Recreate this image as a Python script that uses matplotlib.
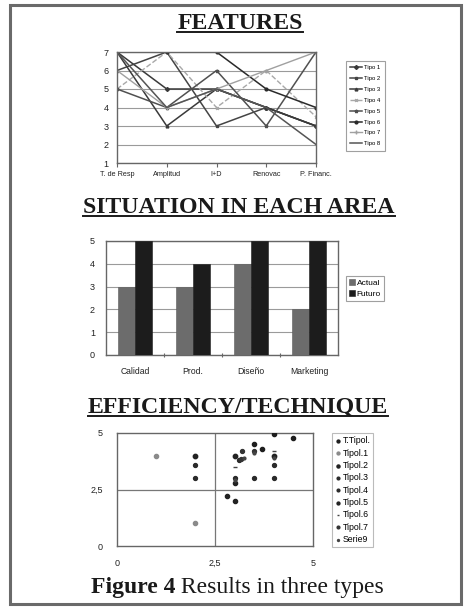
import matplotlib
matplotlib.use("Agg")
import matplotlib.pyplot as plt
from matplotlib.lines import Line2D
from matplotlib.patches import Rectangle

W, H = 467, 607

# ---- data: features profile ----
features = ["T. de Resp", "Amplitud", "I+D", "Renovac", "P. Financ."]
tipo_names = ["Tipo 1", "Tipo 2", "Tipo 3", "Tipo 4", "Tipo 5", "Tipo 6", "Tipo 7", "Tipo 8"]
tipo_1 = [7, 5, 5, 4, 3]
tipo_2 = [6, 7, 3, 4, 3]
tipo_3 = [7, 3, 5, 4, 3]
tipo_4 = [5, 7, 4, 6, 3.5]
tipo_5 = [5, 4, 6, 3, 7]
tipo_6 = [7, 7, 7, 5, 4]
tipo_7 = [6, 4, 5, 6, 7]
tipo_8 = [7, 4, 5, 4, 2]

# ---- data: situation in each area ----
areas = ["Calidad", "Prod.", "Diseño", "Marketing"]
actual = [3, 3, 4, 2]
futuro = [5, 4, 5, 5]

# ---- data: efficiency / technique ----
scatter_names = ["T.Tipol.", "Tipol.1", "Tipol.2", "Tipol.3", "Tipol.4",
                 "Tipol.5", "Tipol.6", "Tipol.7", "Serie9"]
t_tipol_x, t_tipol_y = [3.5, 3.7, 4.5, 4.0], [4.5, 4.3, 4.8, 4.95]
tipol1_x, tipol1_y = [1, 2], [4, 1]
tipol2_x, tipol2_y = [2, 3, 4], [4, 4, 4]
tipol3_x, tipol3_y = [2, 3.1, 4], [3.6, 3.8, 3.6]
tipol4_x, tipol4_y = [2, 3, 3.5, 4], [3, 3, 3, 3]
tipol5_x, tipol5_y = [2.8, 3, 3], [2.2, 2.8, 2]
tipol6_x, tipol6_y = [3, 4], [3.5, 4.2]
tipol7_x, tipol7_y = [3.2, 3.5, 3.17], [4.2, 4.2, 3.85]
serie9_x, serie9_y = [3.23, 3.5, 4, 3], [3.9, 4.1, 3.9, 2.9]

SANS = "Liberation Sans"
SERIF = "Liberation Serif"

fig = plt.figure(figsize=(W / 100, H / 100), dpi=100)
fig.patch.set_facecolor("white")


def rect(l, t, r, b):
    return [l / W, 1 - b / H, (r - l) / W, (b - t) / H]


def fy(y):
    return 1 - y / H


# outer frame
fig.add_artist(Rectangle((10 / W, fy(604)), 451 / W, 599 / H, transform=fig.transFigure,
                         fill=False, edgecolor="#6a6a6a", linewidth=2.2))

# ---------------- line chart ----------------
ax1 = fig.add_axes(rect(117, 52, 316, 163))
series = [tipo_1, tipo_2, tipo_3, tipo_4, tipo_5, tipo_6, tipo_7, tipo_8]
styles = [
    dict(color="#3a3a3a", marker="D", ms=2.0, ls="-", lw=1.1),
    dict(color="#444444", marker="s", ms=2.0, ls="-", lw=1.1),
    dict(color="#3a3a3a", marker="^", ms=2.0, ls="-", lw=1.1),
    dict(color="#a8a8a8", marker="x", ms=2.0, ls="--", lw=1.0),
    dict(color="#505050", marker="*", ms=2.5, ls="-", lw=1.1),
    dict(color="#2a2a2a", marker="o", ms=2.0, ls="-", lw=1.1),
    dict(color="#a0a0a0", marker="+", ms=2.5, ls="-", lw=1.0),
    dict(color="#555555", marker="", ls="-", lw=1.1),
]
xs = list(range(len(features)))
for name, vals, st in zip(tipo_names, series, styles):
    ax1.plot(xs, vals, label=name, **st)
ax1.set_xlim(0, 4)
ax1.set_ylim(1, 7)
ax1.set_yticks(range(1, 8))
ax1.set_xticks(xs)
ax1.set_xticklabels(features)
ax1.yaxis.grid(True, color="#9a9a9a", lw=0.8)
ax1.set_axisbelow(True)
for s in ax1.spines.values():
    s.set_color("#666666")
    s.set_linewidth(1.0)
ax1.tick_params(axis="y", length=0, pad=6, labelsize=6.5, labelcolor="#222222")
ax1.tick_params(axis="x", length=3, direction="out", pad=3, labelsize=5.2,
                labelcolor="#222222", color="#666666")
for lab in ax1.get_xticklabels() + ax1.get_yticklabels():
    lab.set_family(SANS)
leg1 = ax1.legend(loc="upper left", bbox_to_anchor=(343 / W, fy(58)),
                  bbox_transform=fig.transFigure, prop=dict(family=SANS, size=4.3),
                  frameon=True, fancybox=False, edgecolor="#888888",
                  handlelength=2.0, labelspacing=0.95, borderpad=0.7, handletextpad=0.4)
leg1.get_frame().set_linewidth(0.8)

# ---------------- bar chart ----------------
ax2 = fig.add_axes(rect(106, 241, 338, 355))
bw = 0.29
pos = list(range(len(areas)))
ax2.bar([p - bw / 2 for p in pos], actual, width=bw, color="#6c6c6c",
        edgecolor="#5a5a5a", linewidth=0.4, label="Actual", zorder=3)
ax2.bar([p + bw / 2 for p in pos], futuro, width=bw, color="#1c1c1c",
        edgecolor="#1c1c1c", linewidth=0.4, label="Futuro", zorder=3)
ax2.set_xlim(-0.5, 3.5)
ax2.set_ylim(0, 5)
ax2.set_yticks(range(0, 6))
ax2.set_xticks([0.5, 1.5, 2.5])
ax2.set_xticklabels([])
ax2.set_xticks(pos, minor=True)
ax2.set_xticklabels(areas, minor=True)
ax2.yaxis.grid(True, color="#9a9a9a", lw=0.8, zorder=0)
for s in ax2.spines.values():
    s.set_color("#666666")
    s.set_linewidth(1.0)
ax2.tick_params(axis="x", which="major", length=3, direction="inout", color="#666666")
ax2.tick_params(axis="x", which="minor", length=0, pad=9, labelsize=6.2, labelcolor="#222222")
ax2.tick_params(axis="y", length=0, pad=8, labelsize=6.5, labelcolor="#222222")
for lab in ax2.get_xticklabels(minor=True) + ax2.get_yticklabels():
    lab.set_family(SANS)
leg2 = ax2.legend(loc="upper left", bbox_to_anchor=(342 / W, fy(272)),
                  bbox_transform=fig.transFigure, prop=dict(family=SANS, size=6),
                  frameon=True, fancybox=False, edgecolor="#888888",
                  handlelength=0.7, handleheight=0.7, handletextpad=0.2,
                  labelspacing=0.35, borderpad=0.35)
leg2.get_frame().set_linewidth(0.8)

# ---------------- scatter ----------------
ax3 = fig.add_axes(rect(117, 433, 313, 546))
pts = [
    (t_tipol_x, t_tipol_y, dict(marker="o", s=9, color="#1e1e1e")),
    (tipol1_x, tipol1_y, dict(marker="o", s=9, color="#8a8a8a")),
    (tipol2_x, tipol2_y, dict(marker="o", s=10, color="#222222")),
    (tipol3_x, tipol3_y, dict(marker="o", s=8, color="#2a2a2a")),
    (tipol4_x, tipol4_y, dict(marker="o", s=8, color="#2a2a2a")),
    (tipol5_x, tipol5_y, dict(marker="o", s=9, color="#222222")),
    (tipol6_x, tipol6_y, dict(marker="_", s=8, color="#444444", linewidths=1.0)),
    (tipol7_x, tipol7_y, dict(marker="o", s=8, color="#333333")),
    (serie9_x, serie9_y, dict(marker="o", s=4, color="#444444")),
]
for name, (x, y, st) in zip(scatter_names, pts):
    ax3.scatter(x, y, label=name, zorder=3, **st)
ax3.set_xlim(0, 5)
ax3.set_ylim(0, 5)
ax3.axvline(2.5, color="#777777", lw=0.9, zorder=1)
ax3.axhline(2.5, color="#777777", lw=0.9, zorder=1)
ticks = [0, 2.5, 5]
tick_labels = ["0", "2,5", "5"]
ax3.set_xticks(ticks)
ax3.set_xticklabels(tick_labels)
ax3.set_yticks(ticks)
ax3.set_yticklabels(tick_labels)
for s in ax3.spines.values():
    s.set_color("#666666")
    s.set_linewidth(1.0)
ax3.tick_params(length=0, labelsize=6.5, labelcolor="#222222")
ax3.tick_params(axis="x", pad=9)
ax3.tick_params(axis="y", pad=10)
for lab in ax3.get_xticklabels() + ax3.get_yticklabels():
    lab.set_family(SANS)
leg3 = ax3.legend(loc="upper left", bbox_to_anchor=(328 / W, fy(429)),
                  bbox_transform=fig.transFigure, prop=dict(family=SANS, size=6.3),
                  frameon=True, fancybox=False, edgecolor="#aaaaaa",
                  handlelength=0.5, handletextpad=0.3, labelspacing=0.38,
                  borderpad=0.35, markerscale=0.7)
leg3.get_frame().set_linewidth(0.8)

# ---------------- headings (baseline, underline y in px) ----------------
headings = [("FEATURES", 240, 29, 31.5),
            ("SITUATION IN EACH AREA", 239, 213, 215.5),
            ("EFFICIENCY/TECHNIQUE", 238, 413, 415.5)]
fig.canvas.draw()
renderer = fig.canvas.get_renderer()
for txt, cx, by, uy in headings:
    t = fig.text(cx / W, fy(by), txt, ha="center", va="baseline", family=SERIF,
                 weight="bold", fontsize=17.2, color="#1a1a1a")
    bb = t.get_window_extent(renderer)
    fig.add_artist(Line2D([bb.x0 / W, bb.x1 / W], [fy(uy), fy(uy)],
                          transform=fig.transFigure, color="#1a1a1a", lw=1.4))

# caption with bold lead
cap_bold = fig.text(0, fy(593), "Figure 4", ha="left", va="baseline", family=SERIF,
                    weight="bold", fontsize=17, color="#1a1a1a")
cap_rest = fig.text(0, fy(593), " Results in three types", ha="left", va="baseline",
                    family=SERIF, fontsize=17, color="#1a1a1a")
w1 = cap_bold.get_window_extent(renderer).width
w2 = cap_rest.get_window_extent(renderer).width
x0 = 237.5 - (w1 + w2) / 2
cap_bold.set_x(x0 / W)
cap_rest.set_x((x0 + w1) / W)

fig.savefig("out.png", dpi=100, facecolor="white")
